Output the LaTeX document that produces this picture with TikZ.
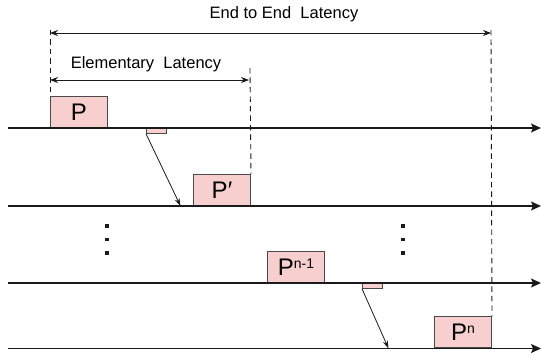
\documentclass[tikz,border=0pt]{standalone}
\usepackage{fontspec}
\setmainfont{Liberation Sans}
\usetikzlibrary{arrows.meta}
\definecolor{pfill}{HTML}{F8CFCF}
\definecolor{pedge}{HTML}{4A4A4A}
\definecolor{lcol}{HTML}{1A1A1A}
\begin{document}
\begin{tikzpicture}[x=1pt,y=-1pt,
  timeline/.style={draw=lcol,line width=1.3pt,-{Stealth[length=10pt,width=9pt,inset=2pt]}},
  pbox/.style={draw=pedge,fill=pfill,line width=1pt,inner sep=0pt,minimum width=57pt,minimum height=31pt,anchor=south west,font=\fontsize{24}{24}\selectfont},
  sbox/.style={draw=pedge,fill=pfill,line width=0.8pt,inner sep=0pt,minimum width=20pt,minimum height=5pt,anchor=north west},
  hop/.style={draw=lcol,line width=0.8pt,-{Stealth[length=8pt,width=5pt]}},
  dline/.style={draw=lcol,line width=0.9pt,dash pattern=on 5.5pt off 4pt},
  lat/.style={draw=lcol,line width=0.9pt,{Stealth[length=8pt,width=6pt]}-{Stealth[length=8pt,width=6pt]}},
  lbl/.style={font=\fontsize{16.5}{17}\selectfont,inner sep=0pt},
  dotm/.style={fill=lcol,inner sep=0pt,minimum size=3.4pt}]
\useasboundingbox (0,0) rectangle (541,355);
% timelines
\coordinate (l1s) at (8,128); \coordinate (l1e) at (541,128);
\coordinate (l2s) at (8,206); \coordinate (l2e) at (541,206);
\coordinate (l3s) at (8,283); \coordinate (l3e) at (541,283);
\coordinate (l4s) at (8,348.5); \coordinate (l4e) at (541,348.5);
% boxes
\node[pbox] (p1) at (50,128) {P};
\node[pbox] (p2) at (193,206) {P\char"2032};
\node[pbox] (p3) at (267,283) {P\raisebox{7pt}{\fontsize{14}{14}\selectfont n-1}};
\node[pbox] (p4) at (434,348.5) {P\raisebox{7pt}{\fontsize{14}{14}\selectfont n}};
\node[sbox] (s1) at (146,128) {};
\node[sbox] (s3) at (362,283) {};
\draw[timeline] (l1s) -- (l1e);
\draw[timeline] (l2s) -- (l2e);
\draw[timeline] (l3s) -- (l3e);
\draw[timeline] (l4s) -- (l4e);
% hops
\coordinate (h2) at (180.5,206);
\coordinate (h4) at (388.5,348.5);
\draw[hop] (s1.south west) -- (h2);
\draw[hop] (s3.south west) -- (h4);
% dashed guides
\coordinate (d1) at (50,30);
\coordinate (d2) at (250,68);
\coordinate (d3) at (491,30);
\draw[dline] (d1) -- (p1.north west);
\draw[dline] (d2) -- (p2.north east);
\draw[dline] (d3) -- (p4.north east);
% latency arrows
\coordinate (e1) at (50,33); \coordinate (e2) at (491,33);
\coordinate (m1) at (50,80); \coordinate (m2) at (249,80);
\draw[lat] (e1) -- (e2);
\draw[lat] (m1) -- (m2);
\node[lbl] (t1) at (284,14) {End to End\ \ Latency};
\node[lbl] (t2) at (146,64) {Elementary\ \ Latency};
% dots
\node[dotm] (a1) at (107,226) {};
\node[dotm] (a2) at (107,239.5) {};
\node[dotm] (a3) at (107,253) {};
\node[dotm] (b1) at (403,226) {};
\node[dotm] (b2) at (403,239.5) {};
\node[dotm] (b3) at (403,253) {};
\end{tikzpicture}
\end{document}
